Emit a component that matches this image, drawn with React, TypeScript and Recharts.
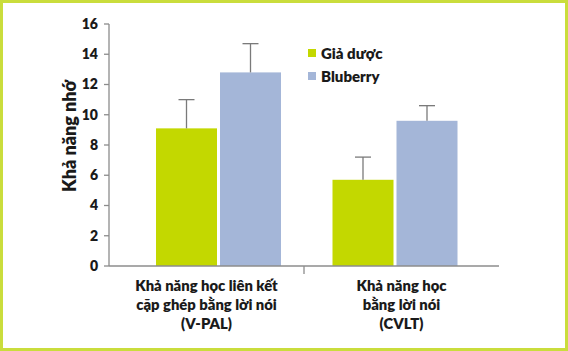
import React from "react";
import { BarChart, Bar, XAxis, YAxis, Legend } from "recharts";

// Memory scores, placebo vs blueberry
const categories = [
  "Khả năng học liên kết\ncặp ghép bằng lời nói\n(V-PAL)",
  "Khả năng học\nbằng lời nói\n(CVLT)",
];
const seriesNames = ["Giả dược", "Bluberry"];
const placebo = [9.1, 5.7];
const placeboErr = [1.9, 1.5];
const blueberry = [12.8, 9.6];
const blueberryErr = [1.9, 1.0];
const yTicks = [0, 2, 4, 6, 8, 10, 12, 14, 16];

const data = categories.map((name, i) => ({
  name,
  placebo: placebo[i],
  placeboErr: placeboErr[i],
  blueberry: blueberry[i],
  blueberryErr: blueberryErr[i],
}));

const COLORS = {
  placebo: "#c3d800",
  blueberry: "#a4b6d8",
  axis: "#8c8c8c",
  err: "#7a7a7a",
  frame: "#cadd3c",
  text: "#1a1a1a",
};

const FONT = "Lato, 'Open Sans', sans-serif";
const WEIGHT = 800;

/* bar + upward-only error whisker, scaled from the bar's own px/unit */
function BarWithError(props: any) {
  const { x, y, width, height, fill, payload, dataKey, errKey } = props;
  const v = payload?.[dataKey] ?? 0;
  const err = payload?.[errKey] ?? 0;
  const pxPerUnit = v ? height / v : 0;
  const cx = x + width / 2;
  const top = y - err * pxPerUnit;
  return (
    <g>
      <rect x={x} y={y} width={width} height={height} fill={fill} />
      <line x1={cx} x2={cx} y1={y} y2={top} stroke={COLORS.err} strokeWidth={1.3} />
      <line x1={cx - 8} x2={cx + 8} y1={top} y2={top} stroke={COLORS.err} strokeWidth={1.3} />
    </g>
  );
}

function CategoryTick(props: any) {
  const { x, y, payload, index } = props;
  const lines = String(payload.value).split("\n");
  const half = payload.offset ?? 97;
  return (
    <g>
      {index === 0 && (
        <line x1={x + half} x2={x + half} y1={y - 8} y2={y} stroke={COLORS.axis} strokeWidth={1.3} />
      )}
      <text
        x={x}
        y={y + 17}
        textAnchor="middle"
        fontFamily={FONT}
        fontWeight={WEIGHT}
        fontSize={14.8}
        fill={COLORS.text}
      >
        {lines.map((l, i) => (
          <tspan key={i} x={x} dy={i === 0 ? 0 : 19}>
            {l}
          </tspan>
        ))}
      </text>
    </g>
  );
}

function LegendBox({ payload }: any) {
  const items = [...(payload || [])].sort(
    (a: any, b: any) => seriesNames.indexOf(a.value) - seriesNames.indexOf(b.value)
  );
  return (
    <div style={{ fontFamily: FONT, fontWeight: WEIGHT, fontSize: 15, color: COLORS.text }}>
      {items.map((p: any) => (
        <div key={p.value} style={{ display: "flex", alignItems: "center", height: 23 }}>
          <span
            style={{ display: "inline-block", width: 8, height: 8, background: p.color, marginRight: 5 }}
          />
          {p.value}
        </div>
      ))}
    </div>
  );
}

export default function App() {
  return (
    <div
      style={{
        position: "fixed",
        left: 0,
        top: 0,
        width: 568,
        height: 351,
        background: "#fff",
        boxShadow: `inset 0 0 0 3px ${COLORS.frame}`,
      }}
    >
      <BarChart
        width={568}
        height={351}
        data={data}
        margin={{ top: 24, right: 69, left: 49, bottom: 25 }}
        barSize={61}
        barGap={3}
      >
        {/* hidden axis the bars sit on; padded so bar groups sit closer together */}
        <XAxis xAxisId="bars" dataKey="name" hide height={0} padding={{ left: 21, right: 16 }} />
        {/* visible axis: labels + boundary tick, full-width bands */}
        <XAxis
          xAxisId="labels"
          dataKey="name"
          interval={0}
          axisLine={{ stroke: COLORS.axis, strokeWidth: 1.3 }}
          tickLine={false}
          tick={<CategoryTick />}
          height={60}
        />
        <YAxis
          width={60}
          domain={[0, 16]}
          ticks={yTicks}
          interval={0}
          tickSize={5}
          tickMargin={6}
          axisLine={{ stroke: COLORS.axis, strokeWidth: 1.3 }}
          tickLine={{ stroke: COLORS.axis, strokeWidth: 1.3 }}
          tick={{ fill: COLORS.text, fontFamily: FONT, fontWeight: WEIGHT, fontSize: 14 }}
          label={{
            content: ({ viewBox }: any) => {
              const cx = viewBox.x + 20;
              const cy = viewBox.y + viewBox.height / 2 - 9;
              return (
                <text
                  x={cx}
                  y={cy}
                  transform={`rotate(-90, ${cx}, ${cy})`}
                  textAnchor="middle"
                  dominantBaseline="central"
                  fontFamily={FONT}
                  fontWeight={WEIGHT}
                  fontSize={18}
                  fill={COLORS.text}
                >
                  Khả năng nhớ
                </text>
              );
            },
          }}
        />
        <Legend
          layout="vertical"
          verticalAlign="middle"
          align="center"
          itemSorter={null as any}
          wrapperStyle={{ left: 308, top: 41, width: 120 }}
          content={<LegendBox />}
        />
        <Bar
          xAxisId="bars"
          dataKey="placebo"
          name="Giả dược"
          fill={COLORS.placebo}
          isAnimationActive={false}
          shape={(p: any) => <BarWithError {...p} dataKey="placebo" errKey="placeboErr" />}
        />
        <Bar
          xAxisId="bars"
          dataKey="blueberry"
          name="Bluberry"
          fill={COLORS.blueberry}
          isAnimationActive={false}
          shape={(p: any) => <BarWithError {...p} dataKey="blueberry" errKey="blueberryErr" />}
        />
      </BarChart>
    </div>
  );
}
